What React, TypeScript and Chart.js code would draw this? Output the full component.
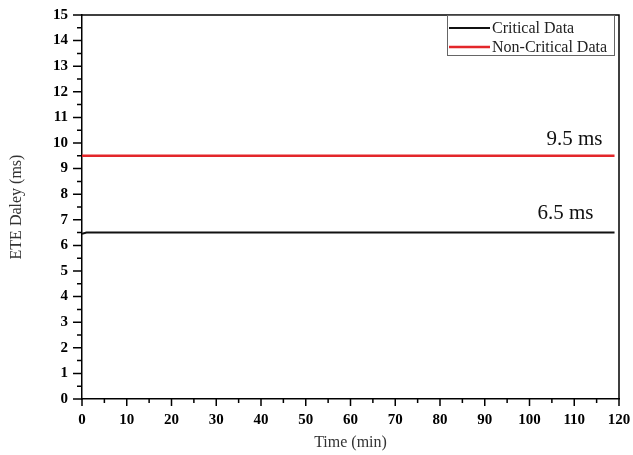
import React, { useEffect, useRef } from 'react';
import { Chart, registerables } from 'chart.js';

Chart.register(...registerables);

const seriesNames = ['Critical Data', 'Non-Critical Data'];
const seriesColors = ['#111111', '#e3262a'];
const criticalTime = [0, 1, 119];
const criticalDelay = [6.45, 6.5, 6.5];
const nonCriticalTime = [0, 119];
const nonCriticalDelay = [9.5, 9.5];
const xTickValues = [0, 10, 20, 30, 40, 50, 60, 70, 80, 90, 100, 110, 120];
const yTickValues = [0, 1, 2, 3, 4, 5, 6, 7, 8, 9, 10, 11, 12, 13, 14, 15];
const annotationLabels = ['9.5 ms', '6.5 ms'];
const annotationX = [116.3, 114.3];
const annotationY = [9.92, 7.03];

const SERIF = '"Liberation Serif", "Times New Roman", serif';

const framePlugin = {
  id: 'frame',
  afterDraw(chart: any) {
    const { ctx, chartArea: a, scales } = chart;
    const x = scales.x;
    const y = scales.y;
    ctx.save();
    ctx.strokeStyle = '#000';
    ctx.lineWidth = 1.5;
    ctx.beginPath();
    ctx.moveTo(a.left, a.top);
    ctx.lineTo(a.right, a.top);
    ctx.lineTo(a.right, a.bottom);
    ctx.stroke();

    // x ticks (major + minor)
    const xMin = xTickValues[0];
    const xMax = xTickValues[xTickValues.length - 1];
    const xStep = (xTickValues[1] - xTickValues[0]) / 2;
    ctx.beginPath();
    for (let v = xMin; v <= xMax + 1e-9; v += xStep) {
      const px = x.getPixelForValue(v);
      const major = Math.abs(v / (xStep * 2) - Math.round(v / (xStep * 2))) < 1e-6;
      ctx.moveTo(px, a.bottom);
      ctx.lineTo(px, a.bottom + (major ? 7 : 4));
    }
    const yMin = yTickValues[0];
    const yMax = yTickValues[yTickValues.length - 1];
    const yStep = (yTickValues[1] - yTickValues[0]) / 2;
    for (let v = yMin; v <= yMax + 1e-9; v += yStep) {
      const py = y.getPixelForValue(v);
      const major = Math.abs(v / (yStep * 2) - Math.round(v / (yStep * 2))) < 1e-6;
      ctx.moveTo(a.left, py);
      ctx.lineTo(a.left - (major ? 9 : 5), py);
    }
    ctx.stroke();

    // annotations
    ctx.fillStyle = '#111';
    ctx.font = `21px ${SERIF}`;
    ctx.textAlign = 'right';
    ctx.textBaseline = 'alphabetic';
    annotationLabels.forEach((t, i) => {
      ctx.fillText(t, x.getPixelForValue(annotationX[i]), y.getPixelForValue(annotationY[i]));
    });

    // legend
    const boxLeft = a.right - 172;
    const boxTop = a.top;
    const boxW = 167;
    const boxH = 40;
    ctx.lineWidth = 1;
    ctx.strokeStyle = '#666';
    ctx.strokeRect(boxLeft + 0.5, boxTop + 0.5, boxW, boxH);
    ctx.font = `16px ${SERIF}`;
    ctx.textAlign = 'left';
    ctx.textBaseline = 'middle';
    const rows = [13, 32];
    seriesNames.forEach((name, i) => {
      const ry = boxTop + rows[i];
      ctx.strokeStyle = seriesColors[i];
      ctx.lineWidth = i === 0 ? 2 : 2.5;
      ctx.beginPath();
      ctx.moveTo(boxLeft + 2, ry);
      ctx.lineTo(boxLeft + 43, ry);
      ctx.stroke();
      ctx.fillStyle = '#222';
      ctx.fillText(name, boxLeft + 45, ry + 1);
    });
    ctx.restore();
  },
};

export default function App() {
  const ref = useRef<HTMLCanvasElement | null>(null);
  useEffect(() => {
    document.body.style.margin = '0';
    if (!ref.current) return;
    const chart = new Chart(ref.current, {
      type: 'line',
      data: {
        datasets: [
          {
            label: seriesNames[0],
            data: criticalTime.map((t, i) => ({ x: t, y: criticalDelay[i] })),
            borderColor: seriesColors[0],
            borderWidth: 2,
            pointRadius: 0,
            tension: 0,
          },
          {
            label: seriesNames[1],
            data: nonCriticalTime.map((t, i) => ({ x: t, y: nonCriticalDelay[i] })),
            borderColor: seriesColors[1],
            borderWidth: 2.5,
            pointRadius: 0,
            tension: 0,
          },
        ],
      },
      options: {
        animation: false,
        responsive: true,
        maintainAspectRatio: false,
        layout: { padding: { top: 15, right: 14, left: 0, bottom: 0 } },
        plugins: { legend: { display: false }, tooltip: { enabled: false } },
        scales: {
          x: {
            type: 'linear',
            min: xTickValues[0],
            max: xTickValues[xTickValues.length - 1],
            afterBuildTicks: (s: any) => {
              s.ticks = xTickValues.map((v) => ({ value: v }));
            },
            afterFit: (s: any) => {
              s.height = 56;
              s.paddingLeft = 0;
              s.paddingRight = 0;
            },
            ticks: {
              color: '#000',
              font: { family: SERIF, size: 15, weight: 'bold' },
              padding: 5,
              maxRotation: 0,
              autoSkip: false,
            },
            grid: { display: true, drawOnChartArea: false, drawTicks: true, tickLength: 7, tickColor: 'rgba(0,0,0,0)' },
            border: { display: true, color: '#000', width: 1.5 },
            title: {
              display: true,
              text: 'Time (min)',
              color: '#333',
              font: { family: SERIF, size: 16 },
              padding: { top: 0, bottom: 3 },
            },
          },
          y: {
            type: 'linear',
            min: yTickValues[0],
            max: yTickValues[yTickValues.length - 1],
            afterBuildTicks: (s: any) => {
              s.ticks = yTickValues.map((v) => ({ value: v }));
            },
            afterFit: (s: any) => {
              s.width = 82;
              s.paddingTop = 0;
              s.paddingBottom = 0;
            },
            ticks: {
              color: '#000',
              font: { family: SERIF, size: 15, weight: 'bold' },
              padding: 5,
              autoSkip: false,
            },
            grid: { display: true, drawOnChartArea: false, drawTicks: true, tickLength: 9, tickColor: 'rgba(0,0,0,0)' },
            border: { display: true, color: '#000', width: 1.5 },
            title: {
              display: true,
              text: 'ETE Daley (ms)',
              color: '#333',
              font: { family: SERIF, size: 16 },
              padding: { top: 7, bottom: 4 },
            },
          },
        },
      },
      plugins: [framePlugin],
    } as any);
    return () => chart.destroy();
  }, []);
  return (
    <div style={{ width: 633, height: 455, position: 'relative' }}>
      <canvas ref={ref} />
    </div>
  );
}
